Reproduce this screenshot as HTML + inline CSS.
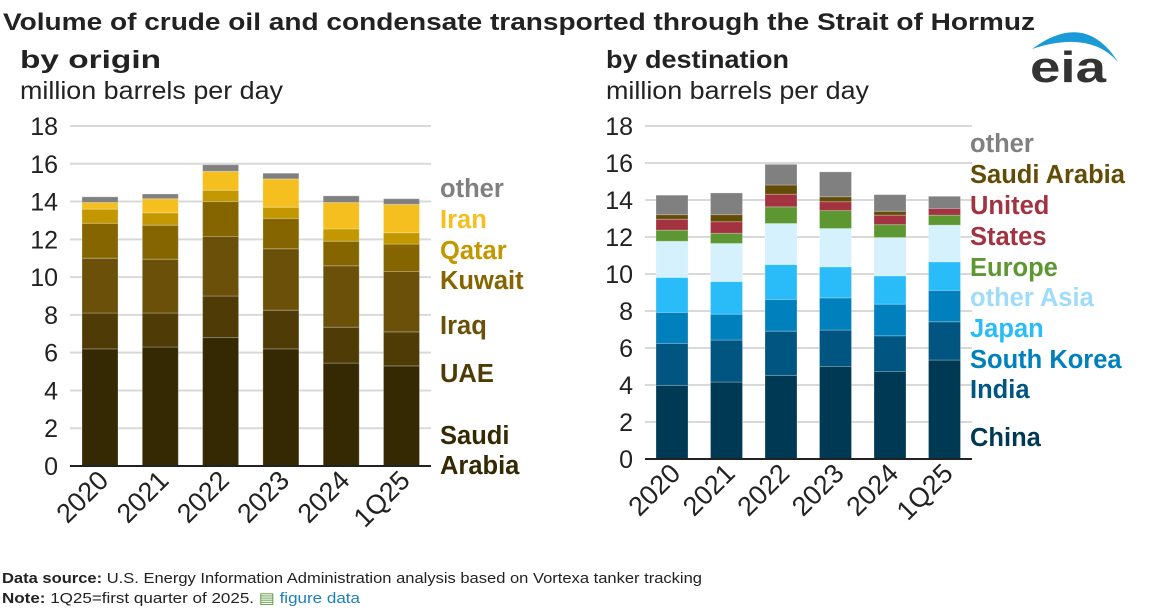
<!DOCTYPE html>
<html><head><meta charset="utf-8"><style>
body{margin:0;background:#fff;width:1158px;height:612px;overflow:hidden;font-family:"Liberation Sans",sans-serif}
svg{position:absolute;left:0;top:0}
</style></head><body>
<svg id="c" width="1158" height="612" xmlns="http://www.w3.org/2000/svg" font-family="Liberation Sans, sans-serif">
<text x="3" y="30" font-size="24" font-weight="bold" fill="#222" textLength="1032" lengthAdjust="spacingAndGlyphs">Volume of crude oil and condensate transported through the Strait of Hormuz</text>
<text x="20" y="68" font-size="25" font-weight="bold" fill="#222" textLength="141" lengthAdjust="spacingAndGlyphs">by origin</text>
<text x="20" y="99" font-size="25" fill="#222" textLength="263" lengthAdjust="spacingAndGlyphs">million barrels per day</text>
<text x="606" y="68" font-size="25" font-weight="bold" fill="#222" textLength="183" lengthAdjust="spacingAndGlyphs">by destination</text>
<text x="606" y="99" font-size="25" fill="#222" textLength="263" lengthAdjust="spacingAndGlyphs">million barrels per day</text>
<g>
<path d="M1032,49 Q1085,10 1118,62 Q1090,30 1032,49 Z" fill="#1a9ad6"/>
<text x="1030" y="82" font-size="44" font-weight="bold" fill="#333" textLength="76" lengthAdjust="spacingAndGlyphs">eia</text>
</g>
<text x="2" y="583" font-size="15" fill="#222" textLength="700" lengthAdjust="spacingAndGlyphs"><tspan font-weight="bold">Data source:</tspan> U.S. Energy Information Administration analysis based on Vortexa tanker tracking</text>
<text x="2" y="603" font-size="15" fill="#222" textLength="358" lengthAdjust="spacingAndGlyphs"><tspan font-weight="bold">Note:</tspan> 1Q25=first quarter of 2025. <tspan fill="#5a9a3a">▤</tspan> <tspan fill="#1a7fc0">figure data</tspan></text>
<g id="left"></g><g id="right"></g>
</svg>
<script>
const categories=["2020","2021","2022","2023","2024","1Q25"];
const ticks=[0,2,4,6,8,10,12,14,16,18];
const originNames=["Saudi Arabia","UAE","Iraq","Kuwait","Qatar","Iran","other"];
const saudiOrigin=[6.2,6.3,6.8,6.2,5.45,5.3];
const uaeOrigin=[1.9,1.8,2.2,2.05,1.9,1.8];
const iraqOrigin=[2.9,2.85,3.15,3.25,3.25,3.2];
const kuwaitOrigin=[1.85,1.8,1.85,1.6,1.3,1.45];
const qatarOrigin=[0.75,0.65,0.6,0.6,0.65,0.6];
const iranOrigin=[0.35,0.75,1.0,1.5,1.4,1.5];
const otherOrigin=[0.3,0.25,0.35,0.3,0.35,0.3];
const destNames=["China","India","South Korea","Japan","other Asia","Europe","United States","Saudi Arabia","other"];
const chinaDest=[3.98,4.16,4.52,5.0,4.73,5.35];
const indiaDest=[2.27,2.27,2.39,1.97,1.93,2.07];
const koreaDest=[1.67,1.4,1.71,1.74,1.71,1.69];
const japanDest=[1.89,1.76,1.89,1.68,1.53,1.55];
const otherAsiaDest=[1.96,2.06,2.22,2.07,2.07,1.98];
const europeDest=[0.6,0.55,0.9,0.97,0.7,0.54];
const usDest=[0.59,0.63,0.68,0.48,0.51,0.36];
const saudiDest=[0.25,0.38,0.5,0.27,0.21,0.0];
const otherDest=[1.05,1.17,1.12,1.34,0.9,0.66];

const NS="http://www.w3.org/2000/svg";
function mk(p,t,a){const e=document.createElementNS(NS,t);for(const k in a)e.setAttribute(k,a[k]);p.appendChild(e);return e;}
function draw(g,cfg){
  const y=v=>cfg.y0-(v/18)*(cfg.y0-cfg.y18);
  const x=i=>cfg.bx+i*cfg.pitch;
  ticks.forEach(t=>{
    const l=mk(g,"line",{x1:cfg.px0,x2:cfg.px1,y1:y(t),y2:y(t),stroke:"#d9d9d9","stroke-width":2});
    
    
    const tx=mk(g,"text",{x:cfg.px0-12,y:y(t)+9,"font-size":25,"text-anchor":"end",fill:"#222"});
    tx.textContent=t;
    
    
  });
  categories.forEach((c,i)=>{
    let cum=0;
    cfg.series.forEach((s,j)=>{
      const v=s[i];
      const r=mk(g,"rect",{x:x(i),y:y(cum+v),width:cfg.bw,height:Math.max(0,y(cum)-y(cum+v)),fill:cfg.colors[j],stroke:"rgba(255,255,255,0.25)","stroke-width":1});
      
      
      cum+=v;
    });
    const cx=x(i)+cfg.bw/2+10, cy=cfg.y0+16;
    const t=mk(g,"text",{x:cx,y:cy,"font-size":27,"text-anchor":"end",fill:"#222",transform:`rotate(-45 ${cx} ${cy})`});
    t.textContent=c;
    
    
  });
  const ax=mk(g,"line",{x1:cfg.px0,x2:cfg.px1,y1:cfg.y0,y2:cfg.y0,stroke:"#222","stroke-width":2});
  
  
  cfg.legend.forEach(l=>{
    const t=mk(g,"text",{x:cfg.lx,y:l[1],"font-size":25.5,"font-weight":"bold",fill:l[2]});
    t.textContent=l[0];
    
    
  });
}
draw(document.getElementById("left"),{y0:466,y18:126,px0:70,px1:431,bx:82,bw:36,pitch:60.3,
 series:[saudiOrigin,uaeOrigin,iraqOrigin,kuwaitOrigin,qatarOrigin,iranOrigin,otherOrigin],
 colors:["#352904","#4f3b06","#6a5009","#856500","#c29700","#f5c01f","#808080"],
 lx:440,legend:[["other",197,"#808080"],["Iran",228,"#f5c01f"],["Qatar",259,"#c29700"],["Kuwait",289,"#856500"],["Iraq",334,"#6a5009"],["UAE",382,"#4f3b06"],["Saudi",444,"#352904"],["Arabia",474,"#352904"]]});
draw(document.getElementById("right"),{y0:459,y18:126,px0:645,px1:972,bx:656,bw:32,pitch:54.5,
 series:[chinaDest,indiaDest,koreaDest,japanDest,otherAsiaDest,europeDest,usDest,saudiDest,otherDest],
 colors:["#003953","#005581","#0081bd","#2abcf9","#d5f1fe","#5d9732","#a33340","#634d06","#808080"],
 lx:970,legend:[["other",152,"#808080"],["Saudi Arabia",183,"#634d06"],["United",214,"#a33340"],["States",245,"#a33340"],["Europe",276,"#5d9732"],["other Asia",306,"#9fdcfa"],["Japan",337,"#2abcf9"],["South Korea",368,"#0081bd"],["India",398,"#005581"],["China",446,"#003953"]]});
</script>
</body></html>
